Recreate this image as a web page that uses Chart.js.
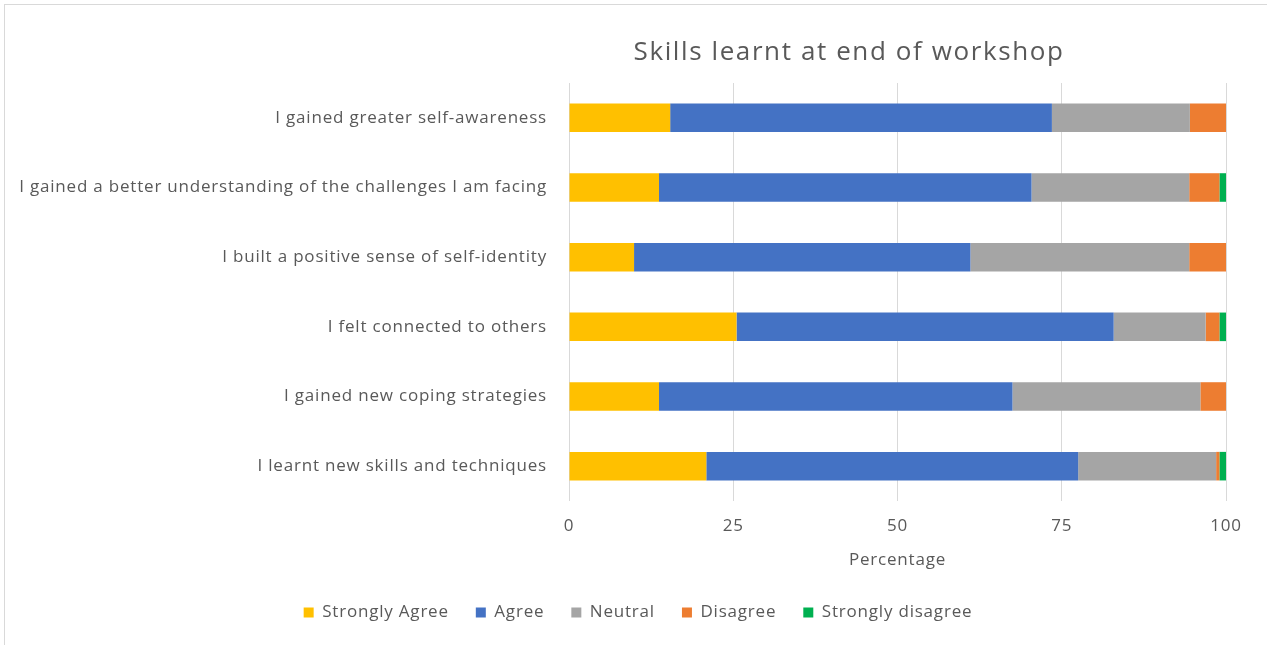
<!DOCTYPE html>
<html>
<head>
<meta charset="utf-8">
<script src="https://cdn.jsdelivr.net/npm/chart.js@4"></script>
<style>
  html, body { margin: 0; padding: 0; background: #ffffff; }
  #wrap { position: relative; width: 1267px; height: 645px; overflow: hidden; }
  #frame { position: absolute; left: 4px; top: 4px; right: -10px; bottom: -10px;
           border-top: 1px solid #d9d9d9; border-left: 1px solid #d9d9d9; }
  canvas { position: absolute; left: 0; top: 0; }
</style>
</head>
<body>
<div id="wrap">
  <div id="frame"></div>
  <canvas id="chart" width="1267" height="645"></canvas>
</div>
<script>
const chartTitle = "Skills learnt at end of workshop";
const axisTitle = "Percentage";
const categories = [
  "I gained greater self-awareness",
  "I gained a better understanding of the challenges I am facing",
  "I built a positive sense of self-identity",
  "I felt connected to others",
  "I gained new coping strategies",
  "I learnt new skills and techniques"
];
const seriesNames = ["Strongly Agree", "Agree", "Neutral", "Disagree", "Strongly disagree"];
const stronglyAgree    = [15.4, 13.7,  9.9, 25.5, 13.7, 20.9];
const agree            = [58.1, 56.7, 51.2, 57.4, 53.8, 56.6];
const neutral          = [21.0, 24.0, 33.3, 14.0, 28.6, 21.0];
const disagree         = [ 5.5,  4.6,  5.6,  2.1,  3.9,  0.5];
const stronglyDisagree = [ 0.0,  1.0,  0.0,  1.0,  0.0,  1.0];
const xTicks = [0, 25, 50, 75, 100];
const seriesColors = ["#FFC000", "#4472C4", "#A5A5A5", "#ED7D31", "#00B050"];

const FONT = '"Open Sans", "Noto Sans", sans-serif';
const TEXT = "#595959";
const SPACING = "0.8px";

const values = [stronglyAgree, agree, neutral, disagree, stronglyDisagree];
const datasets = seriesNames.map((name, i) => ({
  label: name,
  data: values[i],
  backgroundColor: seriesColors[i],
  borderWidth: 0,
  categoryPercentage: 1.0,
  barPercentage: 0.41
}));

// Slightly wider text tracking for all labels drawn by the chart
const trackingPlugin = {
  id: "tracking",
  beforeLayout(chart) { chart.ctx.letterSpacing = SPACING; },
  beforeDraw(chart) { chart.ctx.letterSpacing = SPACING; }
};

// Keep the legend row centred under the whole figure rather than the padded box
const legendBandPlugin = {
  id: "legendBand",
  afterLayout(chart) {
    if (chart.legend) {
      chart.legend.left = 50;
      chart.legend.right = 1226;
    }
  }
};

// Chart heading, centred above the bars
const headingPlugin = {
  id: "heading",
  afterDraw(chart) {
    const ctx = chart.ctx;
    ctx.save();
    ctx.letterSpacing = "1.6px";
    ctx.font = "26px " + FONT;
    ctx.fillStyle = TEXT;
    ctx.textAlign = "center";
    ctx.textBaseline = "middle";
    ctx.fillText(chartTitle, 849, 53);
    ctx.restore();
  }
};

new Chart(document.getElementById("chart"), {
  type: "bar",
  data: { labels: categories, datasets },
  plugins: [trackingPlugin, legendBandPlugin, headingPlugin],
  options: {
    indexAxis: "y",
    responsive: false,
    animation: false,
    layout: { padding: { top: 83, right: 41, bottom: 14, left: 0 } },
    scales: {
      x: {
        stacked: true,
        min: 0,
        max: 100,
        afterBuildTicks(scale) { scale.ticks = xTicks.map(v => ({ value: v })); },
        afterFit(scale) { scale.height = 76; },
        grid: { color: "#d9d9d9", lineWidth: 1, drawTicks: false },
        border: { display: false },
        ticks: { color: TEXT, font: { family: FONT, size: 17 }, padding: 15 },
        title: { display: true, text: axisTitle, color: TEXT, font: { family: FONT, size: 17 },
                 padding: { top: 4, bottom: 7 } }
      },
      y: {
        stacked: true,
        afterFit(scale) { scale.width = 569; },
        grid: { display: false, drawTicks: false },
        border: { display: false },
        ticks: { color: TEXT, font: { family: FONT, size: 17 }, padding: 22 }
      }
    },
    plugins: {
      title: { display: false },
      tooltip: { enabled: false },
      legend: {
        position: "bottom",
        labels: {
          color: TEXT,
          font: { family: FONT, size: 17 },
          boxWidth: 10,
          boxHeight: 10,
          padding: 27
        }
      }
    }
  }
});
</script>
</body>
</html>
